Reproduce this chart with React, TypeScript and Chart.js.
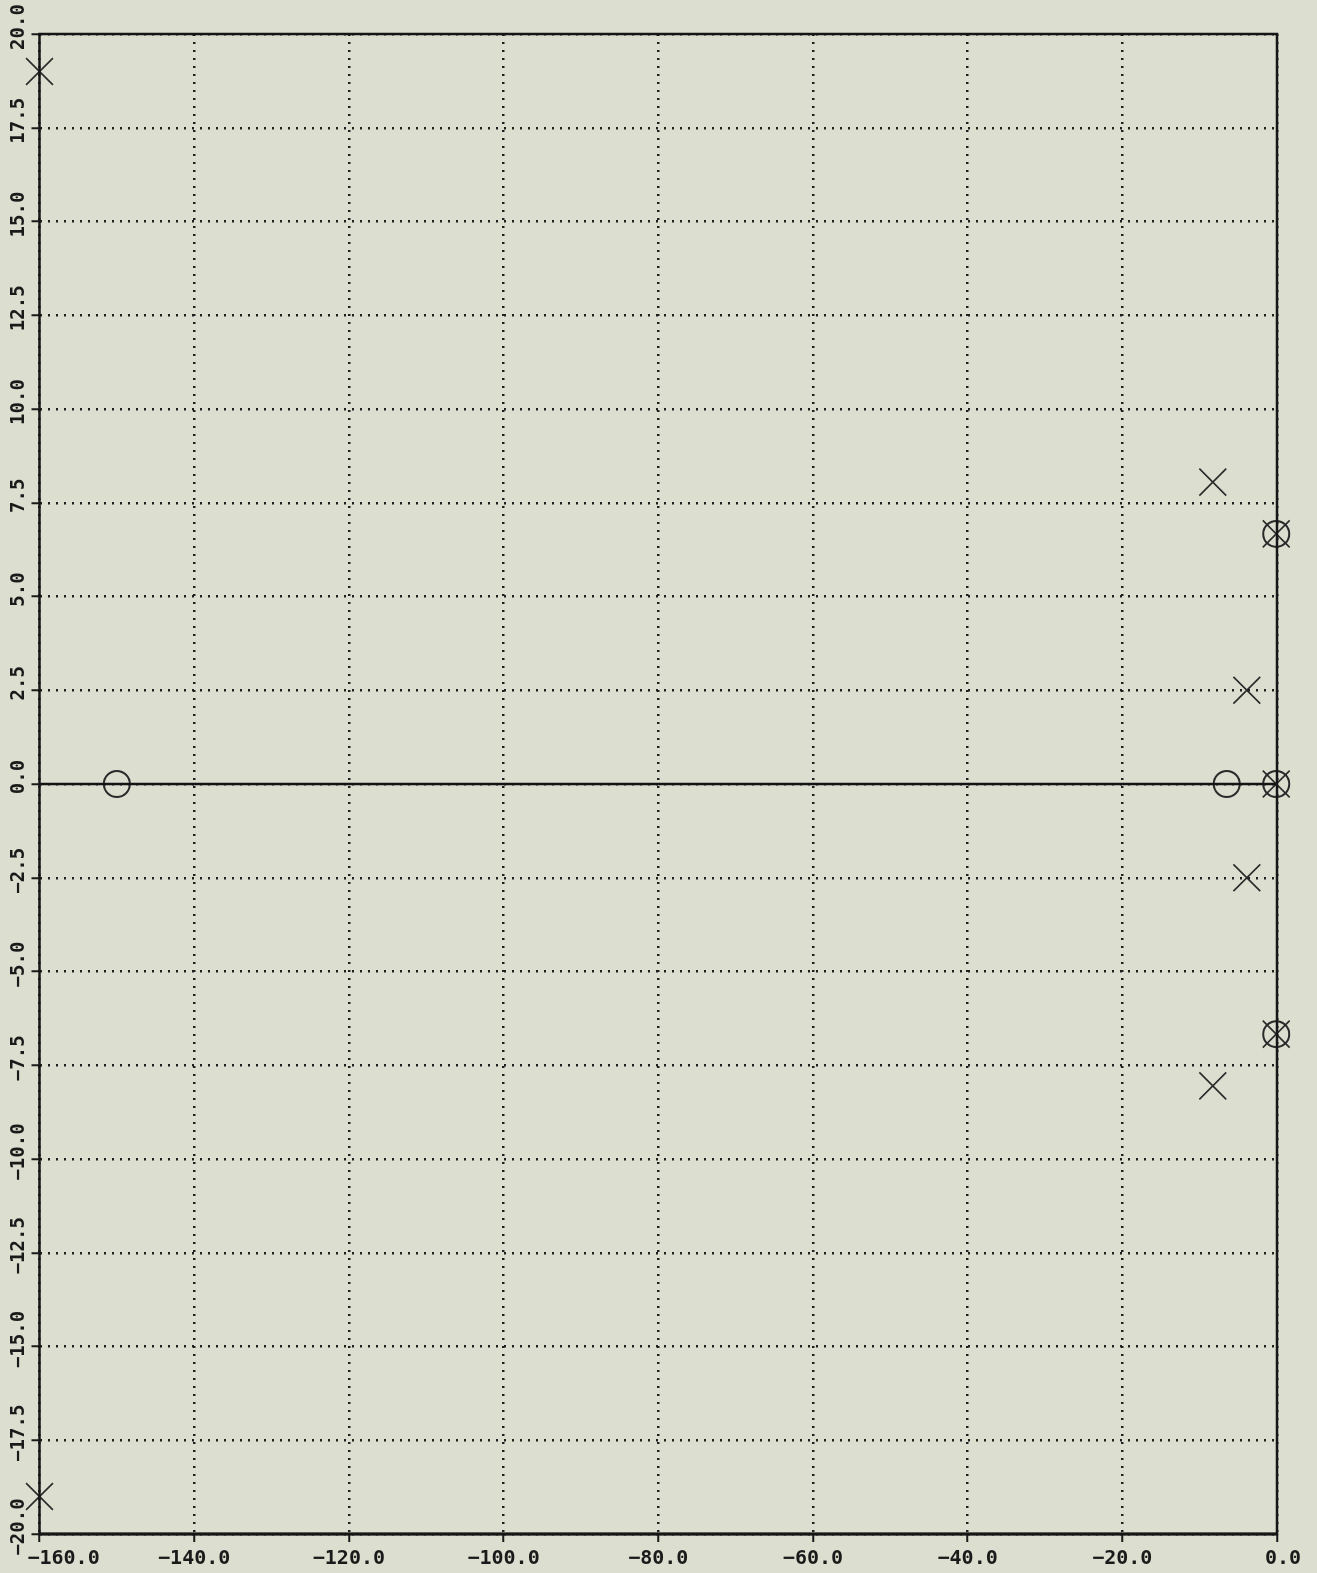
import React, { useEffect, useRef } from "react";
import { Chart, registerables } from "chart.js";

Chart.register(...registerables);

// Poles (×) and zeros (○) of the system
const poleX = [-160, -160, -8.3, -8.3, -3.9, -3.9, -0.1, -0.1, -0.1];
const poleY = [19.0, -19.0, 8.05, -8.05, 2.5, -2.5, 6.67, -6.67, 0];
const zeroX = [-150, -6.5, -0.1, -0.1, -0.1];
const zeroY = [0, 0, 6.67, -6.67, 0];

// Real axis line
const realAxisX = [-160, 0];
const realAxisY = [0, 0];

// Tick values and labels
const xTickValues = [-160, -140, -120, -100, -80, -60, -40, -20, 0];
const xTickLabels = ["    −160.0", "−140.0", "−120.0", "−100.0", "−80.0", "−60.0", "−40.0", "−20.0", " 0.0"];
const yTickValues = [-20, -17.5, -15, -12.5, -10, -7.5, -5, -2.5, 0, 2.5, 5, 7.5, 10, 12.5, 15, 17.5, 20];
const yTickLabels = ["−20.0", "−17.5", "−15.0", "−12.5", "−10.0", "−7.5", "−5.0", "−2.5", "0.0", "2.5", "5.0", "7.5", "10.0", "12.5", "15.0", "17.5", "20.0"];

const zip = (xs: number[], ys: number[]) => xs.map((x, i) => ({ x, y: ys[i] }));
const labelFor = (vals: number[], labels: string[]) => (value: any) => {
  const i = vals.findIndex((v) => Math.abs(v - Number(value)) < 1e-6);
  return i >= 0 ? labels[i] : "";
};

const INK = "#2a2a2a";
const BG = "#dcdecf";

const boxPlugin = {
  id: "frameBox",
  afterDraw(chart: any) {
    const { ctx, chartArea } = chart;
    ctx.save();
    ctx.strokeStyle = "#161616";
    ctx.setLineDash([]);
    ctx.lineWidth = 2.5;
    ctx.strokeRect(chartArea.left, chartArea.top, chartArea.right - chartArea.left, chartArea.bottom - chartArea.top);
    ctx.lineWidth = 3;
    ctx.beginPath();
    ctx.moveTo(chartArea.left, chartArea.bottom);
    ctx.lineTo(chartArea.right, chartArea.bottom);
    ctx.stroke();
    ctx.restore();
  },
};

export default function App() {
  const ref = useRef<HTMLCanvasElement | null>(null);

  useEffect(() => {
    if (!ref.current) return;
    const xFont = { family: "'DejaVu Sans Mono', monospace", size: 20, weight: "bold" as const };
    const yFont = { family: "'DejaVu Sans Mono', monospace", size: 19, weight: "bold" as const };
    const gridCommon = {
      color: "#1e1e1e",
      lineWidth: 2.5,
      drawTicks: true,
      tickLength: 8,
      tickColor: "#1a1a1a",
      tickWidth: 2,
      tickBorderDash: [],
    };
    const chart = new Chart(ref.current, {
      type: "scatter",
      data: {
        datasets: [
          {
            label: "real axis",
            data: zip(realAxisX, realAxisY),
            showLine: true,
            borderColor: "#141414",
            borderWidth: 2.5,
            pointRadius: 0,
            clip: false as any,
          },
          {
            label: "zeros",
            data: zip(zeroX, zeroY),
            pointStyle: "circle",
            pointRadius: 13,
            pointBorderWidth: 2,
            borderColor: INK,
            backgroundColor: "rgba(0,0,0,0)",
            pointBackgroundColor: "rgba(0,0,0,0)",
            pointBorderColor: INK,
            clip: false as any,
          },
          {
            label: "poles",
            data: zip(poleX, poleY),
            pointStyle: "crossRot",
            pointRadius: 19,
            pointBorderWidth: 1.6,
            borderColor: INK,
            pointBorderColor: INK,
            clip: false as any,
          },
        ],
      },
      options: {
        responsive: false,
        animation: false,
        events: [],
        layout: { padding: { top: 34, right: 40, left: 0, bottom: 0 } },
        plugins: { legend: { display: false }, tooltip: { enabled: false } },
        scales: {
          x: {
            type: "linear",
            min: -160,
            max: 0,
            afterBuildTicks: (scale: any) => {
              scale.ticks = xTickValues.map((v) => ({ value: v }));
            },
            afterFit: (scale: any) => {
              scale.height = 39;
              scale.paddingLeft = 0;
              scale.paddingRight = 0;
            },
            ticks: {
              callback: labelFor(xTickValues, xTickLabels),
              font: xFont,
              color: "#1a1a1a",
              padding: 4.5,
              maxRotation: 0,
              minRotation: 0,
              autoSkip: false,
            },
            grid: gridCommon,
            border: { display: false, dash: [2, 6] },
          },
          y: {
            type: "linear",
            min: -20,
            max: 20,
            afterBuildTicks: (scale: any) => {
              scale.ticks = yTickValues.map((v) => ({ value: v }));
            },
            afterFit: (scale: any) => {
              scale.width = 39.5;
              scale.paddingTop = 0;
              scale.paddingBottom = 0;
            },
            ticks: {
              callback: labelFor(yTickValues, yTickLabels),
              font: yFont,
              color: "#1a1a1a",
              minRotation: 90,
              maxRotation: 90,
              crossAlign: "center",
              padding: -16.6,
              labelOffset: -7,
              autoSkip: false,
            },
            grid: gridCommon,
            border: { display: false, dash: [2, 6] },
          },
        },
      },
      plugins: [boxPlugin],
    } as any);
    return () => chart.destroy();
  }, []);

  return (
    <div
      style={{
        position: "fixed",
        left: 0,
        top: 0,
        width: 1317,
        height: 1573,
        background: BG,
      }}
    >
      <canvas ref={ref} width={1317} height={1573} style={{ display: "block", width: 1317, height: 1573 }} />
    </div>
  );
}
